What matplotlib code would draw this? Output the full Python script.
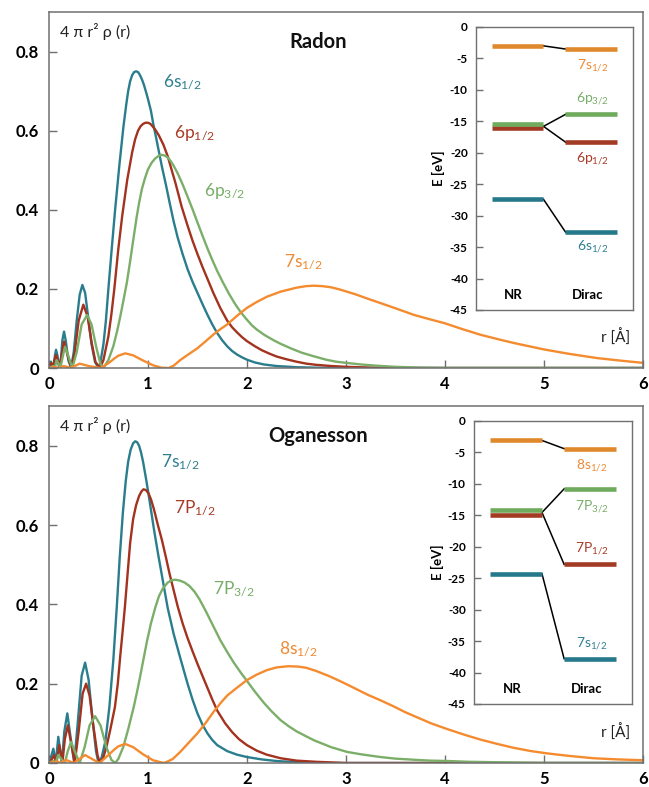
import matplotlib
matplotlib.use('Agg')
import matplotlib.pyplot as plt

plt.rcParams['font.family'] = ['Lato', 'DejaVu Sans']
plt.rcParams['mathtext.fontset'] = 'custom'
plt.rcParams['mathtext.rm'] = 'Lato'
plt.rcParams['mathtext.it'] = 'Lato:italic'
plt.rcParams['mathtext.bf'] = 'Lato:bold'
plt.rcParams['mathtext.default'] = 'regular'

# ---------------- Radon radial densities ----------------
rn_6s_r = [0, 0.02, 0.035, 0.05, 0.06, 0.071, 0.085, 0.1, 0.108, 0.12, 0.135, 0.152, 0.17, 0.195, 0.223,
           0.25, 0.28, 0.31, 0.337, 0.365, 0.395, 0.43, 0.465, 0.50, 0.52, 0.55, 0.575, 0.60, 0.63, 0.668,
           0.71, 0.752, 0.78, 0.80, 0.82, 0.84, 0.86, 0.88, 0.90, 0.92, 0.94, 0.96, 0.98, 1.0, 1.03, 1.055,
           1.08, 1.1, 1.14, 1.184, 1.217, 1.26, 1.3, 1.35, 1.4, 1.45, 1.5, 1.55, 1.6, 1.65, 1.7, 1.75, 1.8,
           1.85, 1.9, 1.95, 2.0, 2.08, 2.17, 2.3, 2.5, 2.75, 3.0, 6.0]
rn_6s_v = [0, 0.016, 0.004, 0.008, 0.032, 0.046, 0.032, 0.006, 0.0, 0.02, 0.07, 0.092, 0.068, 0.02, 0.0,
           0.04, 0.12, 0.185, 0.21, 0.19, 0.13, 0.06, 0.015, 0.0, 0.015, 0.06, 0.12, 0.2, 0.29, 0.4,
           0.51, 0.61, 0.665, 0.7, 0.725, 0.74, 0.748, 0.75, 0.748, 0.74, 0.729, 0.715, 0.698, 0.68, 0.65, 0.615,
           0.585, 0.56, 0.51, 0.46, 0.42, 0.37, 0.33, 0.288, 0.25, 0.218, 0.19, 0.162, 0.135, 0.11, 0.088, 0.07,
           0.055, 0.043, 0.034, 0.027, 0.021, 0.014, 0.009, 0.005, 0.002, 0.0005, 0.0, 0.0]

rn_6p1_r = [0, 0.02, 0.04, 0.055, 0.071, 0.088, 0.108, 0.125, 0.152, 0.18, 0.225, 0.26, 0.30, 0.347, 0.39,
            0.43, 0.47, 0.515, 0.55, 0.6, 0.63, 0.66, 0.70, 0.74, 0.79, 0.84, 0.87, 0.9, 0.925, 0.95, 0.975,
            1.0, 1.025, 1.05, 1.08, 1.11, 1.155, 1.2, 1.24, 1.275, 1.31, 1.34, 1.4, 1.45, 1.5, 1.55, 1.61,
            1.66, 1.73, 1.8, 1.85, 1.9, 1.95, 2.0, 2.08, 2.15, 2.23, 2.3, 2.4, 2.5, 2.6, 2.7, 2.85, 3.0, 3.25,
            3.5, 6.0]
rn_6p1_v = [0, 0.012, 0.003, 0.02, 0.033, 0.02, 0.0, 0.03, 0.067, 0.04, 0.0, 0.04, 0.12, 0.16, 0.13,
            0.065, 0.015, 0.0, 0.02, 0.08, 0.135, 0.2, 0.3, 0.385, 0.475, 0.545, 0.578, 0.60, 0.611, 0.617, 0.62,
            0.62, 0.617, 0.61, 0.6, 0.588, 0.565, 0.535, 0.5, 0.47, 0.437, 0.408, 0.36, 0.322, 0.288, 0.256, 0.22,
            0.19, 0.152, 0.12, 0.103, 0.09, 0.078, 0.068, 0.055, 0.045, 0.036, 0.029, 0.022, 0.016, 0.011, 0.008,
            0.005, 0.003, 0.001, 0.0, 0.0]

rn_6p3_r = [0, 0.04, 0.06, 0.077, 0.095, 0.115, 0.14, 0.162, 0.19, 0.235, 0.28, 0.33, 0.385, 0.43, 0.48,
            0.52, 0.55, 0.6, 0.65, 0.69, 0.72, 0.75, 0.786, 0.82, 0.855, 0.888, 0.91, 0.938, 0.97, 1.0, 1.035,
            1.07, 1.1, 1.134, 1.17, 1.2, 1.23, 1.26, 1.3, 1.34, 1.37, 1.41, 1.46, 1.5, 1.55, 1.6, 1.65, 1.7,
            1.76, 1.82, 1.88, 1.94, 2.0, 2.05, 2.1, 2.18, 2.27, 2.35, 2.45, 2.55, 2.67, 2.8, 2.9, 3.0, 3.15,
            3.3, 3.5, 3.75, 4.0, 6.0]
rn_6p3_v = [0, 0.005, 0.002, 0.02, 0.012, 0.0, 0.03, 0.054, 0.035, 0.0, 0.04, 0.11, 0.134, 0.11, 0.05,
            0.01, 0.0, 0.02, 0.055, 0.095, 0.13, 0.168, 0.215, 0.27, 0.33, 0.385, 0.417, 0.452, 0.48, 0.502, 0.518,
            0.529, 0.535, 0.539, 0.537, 0.532, 0.523, 0.511, 0.492, 0.47, 0.452, 0.427, 0.395, 0.368, 0.335,
            0.303, 0.273, 0.245, 0.215, 0.187, 0.162, 0.14, 0.122, 0.108, 0.097, 0.083, 0.07, 0.06, 0.049, 0.039,
            0.03, 0.021, 0.016, 0.013, 0.009, 0.006, 0.003, 0.001, 0.0, 0.0]

rn_7s_r = [0, 0.05, 0.1, 0.15, 0.22, 0.31, 0.4, 0.52, 0.6, 0.66, 0.7, 0.77, 0.85, 0.95, 1.05, 1.13, 1.21,
           1.26, 1.326, 1.4, 1.5, 1.58, 1.663, 1.73, 1.8, 1.9, 2.0, 2.1, 2.2, 2.34, 2.5, 2.6, 2.675, 2.76,
           2.85, 2.93, 3.01, 3.1, 3.2, 3.35, 3.5, 3.69, 3.85, 4.0, 4.18, 4.36, 4.55, 4.7, 4.85, 5.0, 5.25,
           5.54, 5.8, 6.0]
rn_7s_v = [0, 0.003, 0.0, 0.005, 0.0, 0.011, 0.005, 0.0, 0.012, 0.024, 0.031, 0.037, 0.032, 0.019, 0.007,
           0.001, 0.0, 0.006, 0.02, 0.033, 0.05, 0.067, 0.085, 0.098, 0.11, 0.132, 0.152, 0.167, 0.18, 0.193,
           0.203, 0.207, 0.208, 0.207, 0.204, 0.199, 0.193, 0.186, 0.177, 0.164, 0.151, 0.134, 0.123, 0.113,
           0.098, 0.084, 0.072, 0.063, 0.055, 0.047, 0.036, 0.025, 0.018, 0.013]

# ---------------- Oganesson radial densities ----------------
og_7s_r = [0, 0.02, 0.044, 0.068, 0.094, 0.13, 0.155, 0.185, 0.215, 0.255, 0.29, 0.33, 0.365, 0.40, 0.44,
           0.475, 0.50, 0.53, 0.57, 0.61, 0.65, 0.685, 0.715, 0.746, 0.775, 0.8, 0.825, 0.85, 0.871, 0.89,
           0.91, 0.93, 0.95, 0.985, 1.02, 1.06, 1.1, 1.15, 1.2, 1.26, 1.326, 1.4, 1.45, 1.5, 1.55, 1.6, 1.65,
           1.7, 1.8, 1.9, 2.0, 2.15, 2.3, 2.5, 2.7, 6.0]
og_7s_v = [0, 0.015, 0.036, 0.0, 0.066, 0.0, 0.08, 0.125, 0.07, 0.0, 0.1, 0.22, 0.253, 0.21, 0.11,
           0.03, 0.0, 0.012, 0.055, 0.141, 0.26, 0.394, 0.52, 0.63, 0.71, 0.76, 0.79, 0.806, 0.811, 0.809,
           0.8, 0.783, 0.76, 0.71, 0.655, 0.59, 0.53, 0.46, 0.39, 0.325, 0.265, 0.2, 0.16, 0.125, 0.097, 0.075,
           0.058, 0.045, 0.03, 0.021, 0.015, 0.009, 0.005, 0.002, 0.0, 0.0]

og_7p1_r = [0, 0.03, 0.05, 0.075, 0.104, 0.135, 0.16, 0.19, 0.22, 0.26, 0.3, 0.34, 0.375, 0.41, 0.45, 0.49,
            0.515, 0.55, 0.58, 0.62, 0.666, 0.695, 0.72, 0.745, 0.767, 0.795, 0.82, 0.85, 0.88, 0.91, 0.935,
            0.955, 0.98, 1.005, 1.03, 1.06, 1.1, 1.14, 1.18, 1.22, 1.26, 1.3, 1.35, 1.4, 1.45, 1.5, 1.55,
            1.6, 1.65, 1.7, 1.78, 1.85, 1.92, 2.0, 2.1, 2.2, 2.34, 2.5, 2.7, 3.0, 6.0]
og_7p1_v = [0, 0.01, 0.02, 0.0, 0.045, 0.0, 0.06, 0.095, 0.055, 0.0, 0.08, 0.175, 0.2, 0.17, 0.09, 0.02,
            0.0, 0.015, 0.04, 0.085, 0.141, 0.2, 0.27, 0.335, 0.394, 0.48, 0.555, 0.615, 0.65, 0.673, 0.685,
            0.69, 0.688, 0.68, 0.665, 0.64, 0.6, 0.563, 0.52, 0.475, 0.435, 0.395, 0.352, 0.315, 0.282, 0.25,
            0.22, 0.19, 0.16, 0.132, 0.1, 0.078, 0.06, 0.045, 0.031, 0.021, 0.012, 0.006, 0.003, 0.0, 0.0]

og_7p3_r = [0, 0.04, 0.065, 0.094, 0.125, 0.16, 0.19, 0.223, 0.26, 0.31, 0.36, 0.41, 0.466, 0.52, 0.58,
            0.63, 0.668, 0.7, 0.75, 0.8, 0.855, 0.89, 0.92, 0.955, 0.99, 1.03, 1.074, 1.11, 1.15, 1.2, 1.24,
            1.277, 1.32, 1.37, 1.42, 1.47, 1.52, 1.58, 1.65, 1.73, 1.8, 1.87, 1.94, 2.0, 2.08, 2.17, 2.25,
            2.34, 2.42, 2.5, 2.6, 2.68, 2.77, 2.85, 2.93, 3.01, 3.15, 3.35, 3.5, 3.7, 3.85, 4.03, 4.25, 4.5,
            5.0, 6.0]
og_7p3_v = [0, 0.005, 0.0, 0.02, 0.01, 0.0, 0.03, 0.053, 0.03, 0.0, 0.04, 0.095, 0.118, 0.095, 0.04,
            0.008, 0.0, 0.01, 0.04, 0.085, 0.14, 0.18, 0.217, 0.262, 0.307, 0.352, 0.392, 0.42, 0.44, 0.455,
            0.461, 0.462, 0.46, 0.455, 0.446, 0.432, 0.413, 0.385, 0.35, 0.31, 0.28, 0.252, 0.227, 0.207, 0.18,
            0.152, 0.13, 0.108, 0.093, 0.08, 0.067, 0.057, 0.048, 0.04, 0.034, 0.028, 0.022, 0.015, 0.011,
            0.008, 0.006, 0.005, 0.003, 0.002, 0.0, 0.0]

og_8s_r = [0, 0.08, 0.12, 0.17, 0.25, 0.365, 0.45, 0.51, 0.6, 0.66, 0.7, 0.77, 0.85, 0.95, 1.05, 1.16, 1.2,
           1.25, 1.326, 1.4, 1.5, 1.58, 1.663, 1.73, 1.8, 1.9, 2.0, 2.1, 2.2, 2.3, 2.42, 2.52, 2.6, 2.7,
           2.84, 2.97, 3.1, 3.22, 3.35, 3.48, 3.6, 3.73, 3.86, 4.03, 4.2, 4.36, 4.53, 4.7, 4.87, 5.04, 5.25,
           5.5, 5.75, 6.0]
og_8s_v = [0, 0.004, 0.0, 0.008, 0.0, 0.02, 0.008, 0.0, 0.02, 0.034, 0.042, 0.048, 0.04, 0.022, 0.007, 0.0,
           0.004, 0.01, 0.028, 0.048, 0.075, 0.1, 0.129, 0.15, 0.17, 0.19, 0.209, 0.223, 0.234, 0.241, 0.244,
           0.243, 0.24, 0.232, 0.218, 0.203, 0.187, 0.172, 0.158, 0.143, 0.128, 0.114, 0.1, 0.085, 0.071,
           0.059, 0.048, 0.038, 0.03, 0.024, 0.018, 0.012, 0.009, 0.007]

# ---------------- Orbital energies (eV): order s, p1/2, p3/2, outer s ----------------
rn_nr_levels = [-27.4, -16.1, -15.5, -3.0]
rn_dirac_levels = [-32.6, -18.3, -13.9, -3.5]
og_nr_levels = [-24.3, -14.9, -14.2, -3.1]
og_dirac_levels = [-37.8, -22.8, -10.8, -4.4]

rn_labels = ['6s$_{1/2}$', '6p$_{1/2}$', '6p$_{3/2}$', '7s$_{1/2}$']
og_labels = ['7s$_{1/2}$', '7P$_{1/2}$', '7P$_{3/2}$', '8s$_{1/2}$']

x_ticks = [0, 1, 2, 3, 4, 5, 6]
y_ticks = [0, 0.2, 0.4, 0.6, 0.8]
y_ticklabels = ['0', '0.2', '0.4', '0.6', '0.8']
e_ticks = [0, -5, -10, -15, -20, -25, -30, -35, -40, -45]

# ---------------- styles ----------------
C_LINE = ['#2a7d8c', '#a3321f', '#7bae69', '#f58b2f']
C_BAR = ['#26798a', '#a33a24', '#6eab5c', '#e0892c']
C_TXT = ['#2f7f8f', '#a83a26', '#78ad68', '#ee8a35']
SPINE = '#707070'

fig = plt.figure(figsize=(6.49, 7.87), dpi=100)


def main_panel(rect, curves, labels, label_pos, title):
    ax = fig.add_axes(rect)
    for (r, v), c in zip(curves, C_LINE):
        ax.plot(r, v, color=c, lw=1.7, solid_joinstyle='round')
    ax.set_xlim(0, 6)
    ax.set_ylim(0, 0.9)
    ax.set_xticks(x_ticks)
    ax.set_xticklabels([str(t) for t in x_ticks], fontweight='bold', fontsize=12)
    ax.set_yticks(y_ticks)
    ax.set_yticklabels(y_ticklabels, fontweight='bold', fontsize=12)
    ax.tick_params(axis='both', direction='in', length=6, width=1, color=SPINE)
    ax.tick_params(axis='y', pad=7)
    ax.tick_params(axis='x', pad=6)
    for s in ax.spines.values():
        s.set_color(SPINE)
        s.set_linewidth(1.1)
    for lab, (x, y), c in zip(labels, label_pos, C_TXT):
        ax.text(x, y, lab, color=c, fontsize=12.5, ha='left', va='center')
    ax.text(0.11, 0.85, '4 π r² ρ (r)', fontsize=11.5, ha='left', va='center', color='#222222')
    ax.text(2.72, 0.825, title, fontsize=14.5, fontweight='bold', ha='center', va='center', color='#111111')
    ax.text(5.72, 0.078, 'r [Å]', fontsize=11, ha='center', va='center', color='#222222')
    return ax


def inset_panel(rect, nr, dirac, labels, label_y):
    ax = fig.add_axes(rect)
    x0, x1, x2, x3 = 0.10, 0.43, 0.57, 0.90
    for e_nr, e_d, c in zip(nr, dirac, C_BAR):
        ax.plot([x0, x1], [e_nr, e_nr], color=c, lw=3.3, solid_capstyle='butt', zorder=3)
        ax.plot([x2, x3], [e_d, e_d], color=c, lw=3.3, solid_capstyle='butt', zorder=3)
    # connectors
    ax.plot([x1, x2], [nr[0], dirac[0]], color='black', lw=1.1, zorder=2)
    ax.plot([x1, x2], [nr[3], dirac[3]], color='black', lw=1.1, zorder=2)
    pmid = (nr[1] + nr[2]) / 2
    ax.plot([x1, x2], [pmid, dirac[1]], color='black', lw=1.1, zorder=2)
    ax.plot([x1, x2], [pmid, dirac[2]], color='black', lw=1.1, zorder=2)
    for lab, y, c in zip(labels, label_y, C_TXT):
        ax.text(0.745, y, lab, color=c, fontsize=10, ha='center', va='center')
    ax.text(0.24, -42.6, 'NR', fontsize=9.5, fontweight='bold', ha='center', va='center')
    ax.text(0.71, -42.6, 'Dirac', fontsize=9.5, fontweight='bold', ha='center', va='center')
    ax.set_xlim(0, 1)
    ax.set_ylim(-45, 0)
    ax.set_xticks([])
    ax.set_yticks(e_ticks)
    ax.set_yticklabels([str(t) for t in e_ticks], fontweight='bold', fontsize=8.5)
    ax.tick_params(axis='y', direction='in', length=5, width=1, color=SPINE, pad=6)
    ax.set_ylabel('E [eV]', fontweight='bold', fontsize=9.5, labelpad=3)
    for s in ax.spines.values():
        s.set_color(SPINE)
        s.set_linewidth(1.0)
    return ax


main_panel([0.0755, 0.5324, 0.915, 0.4524],
           [(rn_6s_r, rn_6s_v), (rn_6p1_r, rn_6p1_v), (rn_6p3_r, rn_6p3_v), (rn_7s_r, rn_7s_v)],
           rn_labels, [(1.155, 0.724), (1.26, 0.594), (1.57, 0.446), (2.37, 0.268)], 'Radon')
inset_panel([0.7334, 0.6061, 0.2419, 0.3596], rn_nr_levels, rn_dirac_levels,
            rn_labels, [-34.9, -20.9, -11.4, -6.1])

main_panel([0.0755, 0.0305, 0.915, 0.4536],
           [(og_7s_r, og_7s_v), (og_7p1_r, og_7p1_v), (og_7p3_r, og_7p3_v), (og_8s_r, og_8s_v)],
           og_labels, [(1.135, 0.76), (1.26, 0.643), (1.66, 0.44), (2.32, 0.289)], 'Oganesson')
inset_panel([0.7304, 0.1055, 0.2435, 0.3596], og_nr_levels, og_dirac_levels,
            og_labels, [-35.4, -20.4, -13.6, -7.05])

fig.savefig('out.png', dpi=100)
